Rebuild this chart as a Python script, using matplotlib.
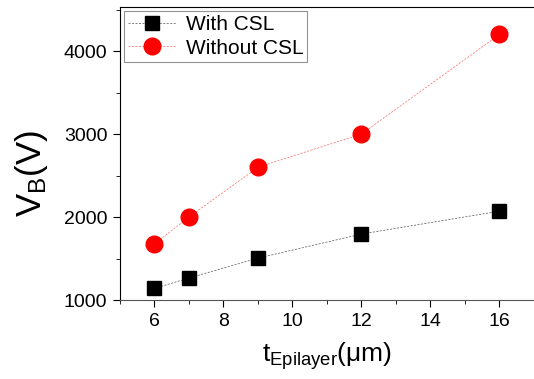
import numpy as np
import matplotlib
matplotlib.use('Agg')
import matplotlib.pyplot as plt
from matplotlib.ticker import MultipleLocator

plt.rcParams['font.family'] = ['Liberation Sans', 'DejaVu Sans']

thickness = [6, 7, 9, 12, 16]
vb_with_csl = [1140, 1265, 1505, 1795, 2070]
vb_without_csl = [1675, 2000, 2600, 3000, 4200]

fig = plt.figure(figsize=(5.34, 3.79), dpi=100)
ax = fig.add_axes([0.2247, 0.2084, 0.7753, 0.7731])

ax.plot(thickness, vb_with_csl, color='#555555', ls=(0, (3, 2)), lw=0.5,
        marker='s', ms=10, mfc='black', mec='black', label='With CSL')
ax.plot(thickness, vb_without_csl, color='#ff6666', ls=(0, (3, 2)), lw=0.5,
        marker='o', ms=12, mfc='red', mec='red', label='Without CSL')

ax.set_xlim(5, 17)
ax.set_ylim(1000, 4530)
ax.xaxis.set_major_locator(MultipleLocator(2))
ax.xaxis.set_minor_locator(MultipleLocator(1))
ax.yaxis.set_major_locator(MultipleLocator(1000))
ax.yaxis.set_minor_locator(MultipleLocator(500))
ax.tick_params(which='both', direction='out', labelsize=14, top=False, right=False)
ax.tick_params(which='major', length=5, pad=4)
ax.tick_params(which='minor', length=3)
ax.spines['right'].set_visible(False)
ax.spines['bottom'].set_color('#555555')

ax.set_xlabel(r'$\mathregular{t_{Epilayer}(\mu m)}$', fontsize=19, labelpad=8)
ax.set_ylabel(r'$\mathregular{V_B(V)}$', fontsize=25)
ax.yaxis.set_label_coords(-0.17, 0.43)

leg = ax.legend(loc='upper left', fontsize=15, frameon=True, fancybox=False,
                edgecolor='#777777', borderaxespad=0.2, handlelength=2.3,
                handletextpad=0.45, borderpad=0.2, labelspacing=0.2)
leg.get_frame().set_linewidth(0.8)

fig.savefig('out.png', dpi=100)
